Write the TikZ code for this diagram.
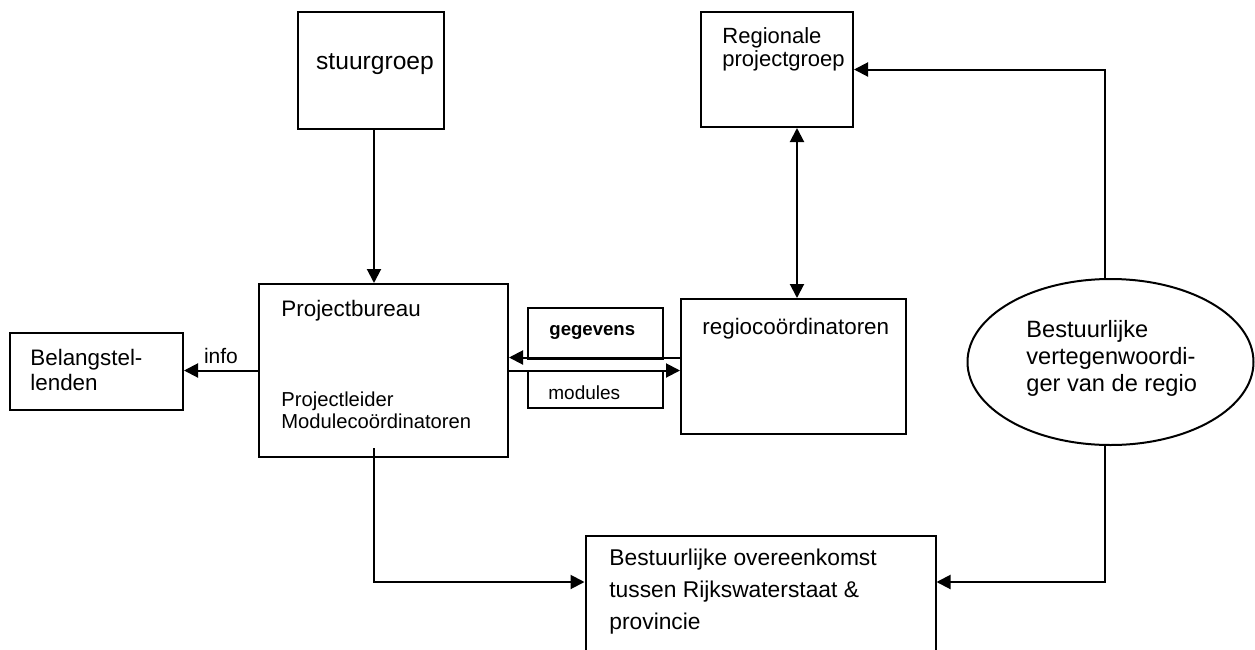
\documentclass[tikz,border=0pt]{standalone}
\usepackage{fontspec}
\setmainfont{Liberation Sans}
\usetikzlibrary{positioning}
\usetikzlibrary{arrows.meta}
\usetikzlibrary{shapes.geometric}
\tikzset{orgbox/.style={rectangle,draw=black,fill=white,line width=1pt,inner sep=0pt}}
\tikzset{orgtext/.style={inner sep=0pt,anchor=north west,align=left,
font=\fontsize{11.2}{12.5}\selectfont}}
\tikzset{orgarrow/.style={line width=1pt,-{Triangle[length=7pt,width=7pt]}}}

\begin{document}
\begin{tikzpicture}[x=0.5pt,y=-0.5pt]
        \clip (0,0) rectangle (1255,649);

        \node[orgbox,minimum width=73pt,minimum height=58.5pt] (boxStuur) at (371,70.5) {};
        \node[orgbox,minimum width=76pt,minimum height=57.5pt] (boxRpg) at (777,69.5) {};
        \node[orgbox,minimum width=124.5pt,minimum height=86.5pt] (boxProj) at (383.5,370.5) {};
        \node[orgbox,minimum width=86.5pt,minimum height=38.5pt] (boxBelang) at (96.5,371.5) {};
        \node[orgbox,minimum width=112.5pt,minimum height=67.5pt] (boxRegio) at (793.5,366.5) {};
        \node[orgbox,minimum width=67.5pt,minimum height=25.5pt] (boxGeg) at (595.5,333.5) {};
        \node[orgbox,minimum width=67.5pt,minimum height=18.5pt] (boxMod) at (595.5,389.5) {};
        \node[orgbox,minimum width=175pt,minimum height=73pt] (boxOvk) at (760.5,609) {};
        \node[ellipse,draw=black,fill=white,line width=1pt,inner sep=0pt,
              minimum width=143pt,minimum height=83pt] (ovalBest) at (1110.5,362) {};

        \node[inner sep=0pt,anchor=base,font=\fontsize{12.3}{14}\selectfont] (txtStuur) at (375,69) {stuurgroep};
        \node[orgtext,font=\fontsize{11}{11.8}\selectfont] (txtRpg) at (722,27) {Regionale\\projectgroep};
        \node[orgtext] (txtProj) at (281,300) {Projectbureau};
        \node[orgtext,font=\fontsize{10.1}{11.3}\selectfont] (txtProjSub) at (281,391) {Projectleider\\Modulecoördinatoren};
        \node[orgtext,font=\fontsize{11.2}{12.5}\selectfont] (txtBelang) at (30,349) {Belangstel-\\lenden};
        \node[orgtext] (txtRegio) at (702,318) {regiocoördinatoren};
        \node[inner sep=0pt,anchor=base west,font=\bfseries\fontsize{9.3}{10}\selectfont] (txtGeg) at (549,335) {gegevens};
        \node[inner sep=0pt,anchor=base west,font=\fontsize{9.5}{10}\selectfont] (txtMod) at (548,399) {modules};
        \node[orgtext,font=\fontsize{11.8}{13.5}\selectfont] (txtBest) at (1026,320) {Bestuurlijke\\vertegenwoordi-\\ger van de regio};
        \node[orgtext,font=\fontsize{11.4}{16}\selectfont] (txtOvk) at (609,549) {Bestuurlijke overeenkomst\\tussen Rijkswaterstaat \&\\provincie};

        % stuurgroep naar projectbureau
        \draw[orgarrow] ([xshift=1.5pt]boxStuur.south) -- ([xshift=1.5pt]boxStuur.south |- boxProj.north);
        \draw[line width=1pt,{Triangle[length=7pt,width=7pt]}-{Triangle[length=7pt,width=7pt]}]
            ([xshift=10pt]boxRpg.south) -- ([xshift=10pt]boxRpg.south |- boxRegio.north);

        \draw[orgarrow] (boxProj.west) -- node[inner sep=0pt,anchor=base,yshift=3.5pt,font=\fontsize{10.5}{11}\selectfont] {info} (boxProj.west -| boxBelang.east);

        \draw[orgarrow] ([yshift=4.5pt]boxRegio.west) -- ([yshift=4.5pt]boxRegio.west -| boxProj.east);
        \draw[orgarrow] ([yshift=-2pt]boxRegio.west -| boxProj.east) -- ([yshift=-2pt]boxRegio.west);

        \draw[orgarrow] ([xshift=-3pt]ovalBest.north) |- (boxRpg.east);
        \draw[orgarrow] ([xshift=-3pt]ovalBest.south) |- ([yshift=13.5pt]boxOvk.east);
        \draw[orgarrow] ([xshift=-4.75pt,yshift=5pt]boxProj.south) |- ([yshift=13.5pt]boxOvk.west);

\end{tikzpicture}
\end{document}
